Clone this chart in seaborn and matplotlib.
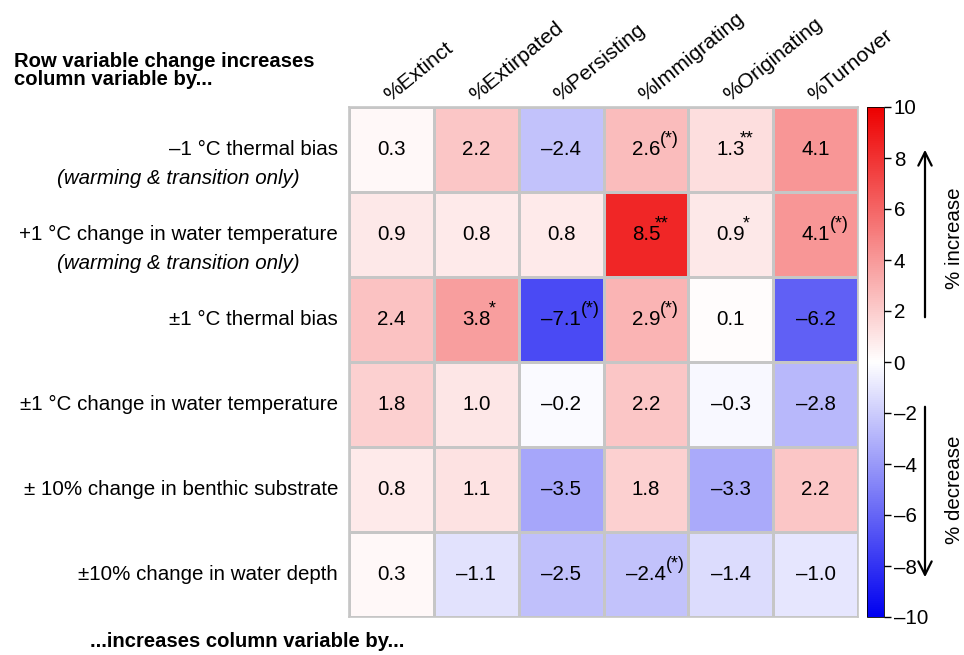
import numpy as np
import pandas as pd
import matplotlib
matplotlib.use("Agg")
import matplotlib.pyplot as plt
import matplotlib.transforms as mtransforms
from matplotlib.patches import FancyArrowPatch
from matplotlib.colors import LinearSegmentedColormap
import seaborn as sns

# ---- data -------------------------------------------------------------
columns = ["%Extinct", "%Extirpated", "%Persisting",
           "%Immigrating", "%Originating", "%Turnover"]
rows = ["\u20131 \u00b0C thermal bias",
        "+1 \u00b0C change in water temperature",
        "\u00b11 \u00b0C thermal bias",
        "\u00b11 \u00b0C change in water temperature",
        "\u00b1 10% change in benthic substrate",
        "\u00b110% change in water depth"]
row_notes = ["(warming & transition only)", "(warming & transition only)",
             "", "", "", ""]
values = [
    [0.3, 2.2, -2.4, 2.6, 1.3, 4.1],
    [0.9, 0.8, 0.8, 8.5, 0.9, 4.1],
    [2.4, 3.8, -7.1, 2.9, 0.1, -6.2],
    [1.8, 1.0, -0.2, 2.2, -0.3, -2.8],
    [0.8, 1.1, -3.5, 1.8, -3.3, 2.2],
    [0.3, -1.1, -2.5, -2.4, -1.4, -1.0],
]
significance = [
    ["", "", "", "(*)", "**", ""],
    ["", "", "", "**", "*", "(*)"],
    ["", "*", "(*)", "(*)", "", ""],
    ["", "", "", "", "", ""],
    ["", "", "", "", "", ""],
    ["", "", "", "(*)", "", ""],
]
cbar_ticks = [-10, -8, -6, -4, -2, 0, 2, 4, 6, 8, 10]

# ---- styling ----------------------------------------------------------
sns.set_style("white")
plt.rcParams["font.family"] = ["Liberation Sans", "DejaVu Sans"]
plt.rcParams["text.color"] = "black"
plt.rcParams["ytick.color"] = "black"
plt.rcParams["ytick.labelcolor"] = "black"
FS = 14.8

cmap = LinearSegmentedColormap.from_list(
    "blue_white_red", [(0.0, 0.0, 0.94), (1, 1, 1), (0.93, 0.0, 0.0)])


def dash(v):
    s = f"{v:.1f}" if isinstance(v, float) else str(v)
    return s.replace("-", "\u2013")


W, H = 964, 655
fig = plt.figure(figsize=(W / 100, H / 100), dpi=100)
ax = fig.add_axes([349 / W, 1 - 617 / H, 509 / W, 510 / H])
cax = fig.add_axes([867 / W, 1 - 617 / H, 17 / W, 510 / H])

df = pd.DataFrame(values, index=rows, columns=columns)
sns.heatmap(df, ax=ax, cmap=cmap, vmin=-10, vmax=10,
            linewidths=1.0, linecolor="#c6c6c6",
            cbar_ax=cax, xticklabels=False, yticklabels=False)
for sp in ax.spines.values():
    sp.set_visible(True)
    sp.set_color("#c6c6c6")
    sp.set_linewidth(1.2)

# cell values with significance marks
for i, row in enumerate(values):
    for j, v in enumerate(row):
        t = ax.text(j + 0.5, i + 0.5, dash(v), ha="center", va="center",
                    fontsize=FS, color="black")
        sig = significance[i][j]
        if sig == "(*)":
            ax.annotate(sig, xy=(1.0, 1.0), xycoords=t, ha="left", va="top",
                        xytext=(0, 6.5), textcoords="offset points",
                        fontsize=12.8)
        elif sig:
            ax.annotate(sig, xy=(1.0, 1.0), xycoords=t, ha="center",
                        va="top", xytext=(1, 7), textcoords="offset points",
                        fontsize=12.8)

# column headers, rotated
for j, c in enumerate(columns):
    ax.annotate(c, xy=(j + 0.5, 0), xycoords="data",
                xytext=(-1, 5), textcoords="offset pixels",
                rotation=39, rotation_mode="anchor", ha="left",
                va="baseline", fontsize=15.2, annotation_clip=False)

# row labels
tr = mtransforms.blended_transform_factory(fig.transFigure, ax.transData)
for i, (r, note) in enumerate(zip(rows, row_notes)):
    ax.text(338 / W, i + 0.5, r, transform=tr, ha="right", va="center",
            fontsize=FS)
    if note:
        ax.text(300 / W, i + 0.84, note, transform=tr, ha="right",
                va="center", fontsize=FS, style="italic")

# colour bar
cbar = ax.collections[0].colorbar
cbar.set_ticks(cbar_ticks)
cbar.set_ticklabels([dash(t) for t in cbar_ticks])
cbar.ax.tick_params(labelsize=FS, length=5, width=1, color="black",
                    labelcolor="black", pad=2)
cbar.outline.set_visible(True)
cbar.outline.set_edgecolor("black")
cbar.outline.set_linewidth(0.6)

# direction arrows beside the colour bar
arrow = dict(arrowstyle="->", lw=1.6, color="black", mutation_scale=24)
fig.add_artist(FancyArrowPatch(
    (925 / W, 1 - 320 / H), (925 / W, 1 - 147 / H),
    transform=fig.transFigure, **arrow))
fig.add_artist(FancyArrowPatch(
    (925 / W, 1 - 404 / H), (925 / W, 1 - 580 / H),
    transform=fig.transFigure, **arrow))
fig.text(955 / W, 1 - 238 / H, "% increase", rotation=90, ha="center",
         va="center", fontsize=FS)
fig.text(955 / W, 1 - 490 / H, "% decrease", rotation=90, ha="center",
         va="center", fontsize=FS)

# captions
fig.text(14 / W, 1 - 67 / H, "Row variable change increases",
         fontsize=14.6, weight="bold", va="baseline")
fig.text(14 / W, 1 - 85 / H, "column variable by...",
         fontsize=14.6, weight="bold", va="baseline")
fig.text(90 / W, 1 - 647 / H, "...increases column variable by...",
         fontsize=14.6, weight="bold", va="baseline")

fig.savefig("out.png", dpi=100)
